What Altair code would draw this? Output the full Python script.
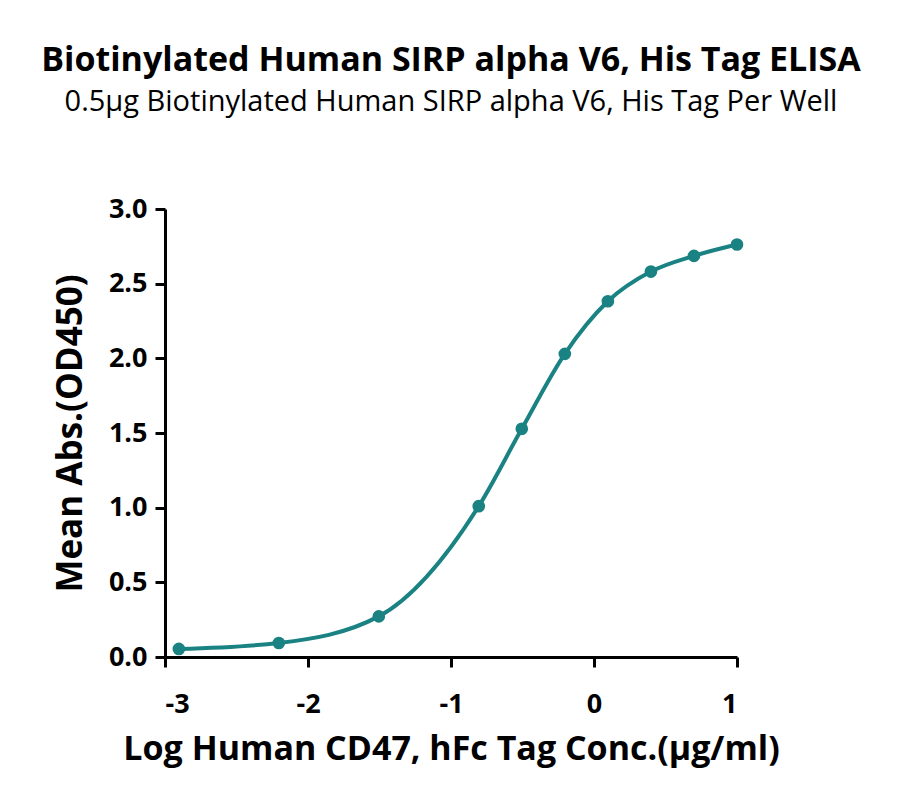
import altair as alt
import pandas as pd

# log10 of concentration (ug/ml) and mean absorbance
log_conc = [-2.903, -2.204, -1.505, -0.806, -0.505, -0.204, 0.097, 0.398, 0.699, 1.0]
mean_abs = [0.054, 0.094, 0.272, 1.010, 1.528, 2.030, 2.382, 2.581, 2.686, 2.762]

x_ticks = [-3, -2, -1, 0, 1]
y_ticks = [0.0, 0.5, 1.0, 1.5, 2.0, 2.5, 3.0]

TEAL = "#1a8282"
FONT = "Open Sans"

df = pd.DataFrame({"log_conc": log_conc, "mean_abs": mean_abs})

x_enc = alt.X(
    "log_conc:Q",
    scale=alt.Scale(domain=[-3, 1], nice=False, zero=False),
    axis=alt.Axis(
        values=x_ticks,
        labelExpr="datum.value < 0 ? '-' + abs(datum.value) : '' + datum.value",
        title="Log Human CD47, hFc Tag Conc.(μg/ml)",
        titleFontSize=34,
        titlePadding=15,
        labelPadding=24,
    ),
)
y_enc = alt.Y(
    "mean_abs:Q",
    scale=alt.Scale(domain=[0, 3], nice=False),
    axis=alt.Axis(
        values=y_ticks,
        format=".1f",
        title="Mean Abs.(OD450)",
        titleFontSize=35,
        titlePadding=20,
        labelPadding=8,
    ),
)

line = alt.Chart(df).mark_line(
    interpolate="monotone", color=TEAL, strokeWidth=4
).encode(x=x_enc, y=y_enc)

points = alt.Chart(df).mark_circle(
    size=160, color=TEAL, opacity=1
).encode(x="log_conc:Q", y="mean_abs:Q")

chart = (
    (line + points)
    .properties(
        width=572,
        height=448,
        autosize=alt.AutoSizeParams(type="none"),
        padding={"left": 157, "top": 201, "right": 155, "bottom": 141},
        title=alt.TitleParams(
            text="Biotinylated Human SIRP alpha V6, His Tag ELISA",
            subtitle="0.5μg Biotinylated Human SIRP alpha V6, His Tag Per Well",
            anchor="middle",
            font=FONT,
            fontSize=34,
            fontWeight="bold",
            color="black",
            subtitleFont=FONT,
            subtitleFontSize=29,
            subtitleColor="black",
            subtitlePadding=10,
            offset=78,
        ),
    )
    .configure_view(stroke=None)
    .configure_axis(
        domainColor="black",
        domainWidth=3,
        tickColor="black",
        tickWidth=3,
        tickSize=10,
        grid=False,
        labelFont=FONT,
        labelFontSize=27,
        labelFontWeight="bold",
        labelColor="black",
        titleFont=FONT,
        titleFontWeight="bold",
        titleColor="black",
    )
)

chart.save("out.html", embed_options={"renderer": "svg", "actions": False})
